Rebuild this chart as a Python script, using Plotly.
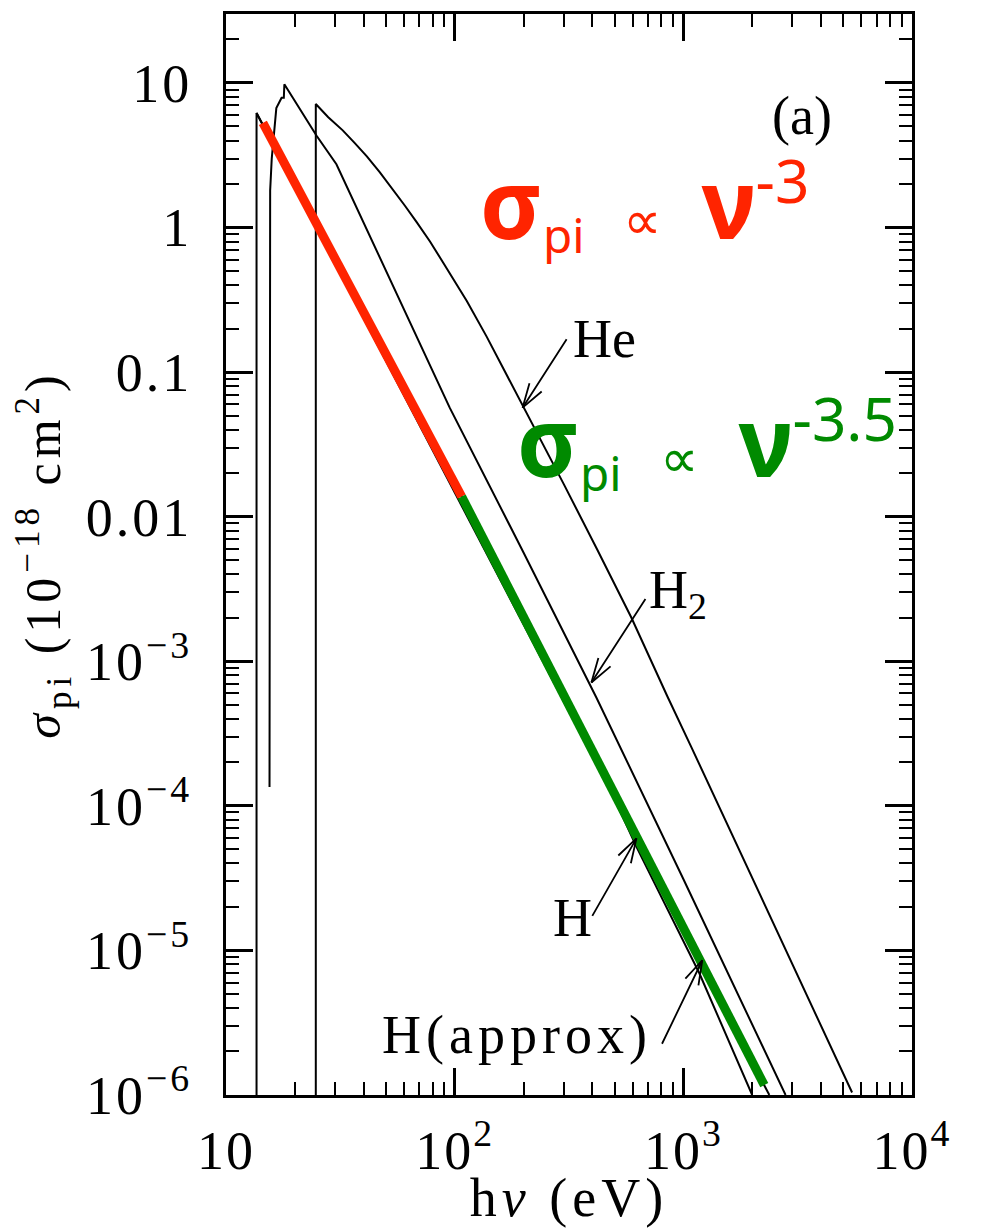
import math
import plotly.graph_objects as go

# ---- data (energy in eV, cross section in 1e-18 cm^2) ----
H_E = [13.6, 13.6, 107.3, 400, 624, 1175, 2000]
H_S = [1e-7, 6.2, 0.0138, 2.4e-4, 5.2e-5, 6.95e-6, 1.0e-6]

Happrox_E = [13.6, 2377]
Happrox_S = [6.2, 1.0e-6]

H2_E = [15.5, 15.5, 15.6, 15.85, 16.1, 16.6, 17.5, 17.9, 18.0, 24.9, 30.4, 68.2, 95.1, 200, 417, 1000, 2800]
H2_S = [1.35e-4, 0.5, 1.8, 3.0, 3.8, 6.7, 7.9, 7.9, 9.8, 4.31, 2.74, 0.173, 0.0568, 5.66e-3, 5.6e-4, 3.12e-5, 1.0e-6]

He_E = [24.7, 24.7, 28.0, 32.4, 36.5, 41.3, 47.0, 53.6, 60.5, 68.2, 78.0, 88.7, 100, 113, 138, 198,
        300, 420, 593, 851, 1084, 5470]
He_S = [1e-7, 7.16, 5.80, 4.70, 3.85, 3.11, 2.42, 1.85, 1.42, 1.09, 0.80, 0.578, 0.425, 0.310, 0.176,
        0.0596, 0.0168, 5.93e-3, 2.0e-3, 5.73e-4, 2.55e-4, 1.04e-6]

red_E = [14.5, 107.3]
red_S = [5.30, 0.01377]

green_E = [107.3, 2259]
green_S = [0.01377, 1.17e-6]

x_tickvals = [10, 100, 1000, 10000]
x_ticktext = ["10", "10<sup>2</sup>", "10<sup>3</sup>", "10<sup>4</sup>"]
y_tickvals = [1e-6, 1e-5, 1e-4, 1e-3, 0.01, 0.1, 1, 10]
y_ticktext = ["10<sup>−6</sup>", "10<sup>−5</sup>", "10<sup>−4</sup>", "10<sup>−3</sup>",
              "0.01", "0.1", "1", "10"]

RED = "rgb(255,36,0)"
GREEN = "rgb(0,138,0)"
SERIF = "Liberation Serif"
SANS = "Noto Sans"


def spaced(t, px):
    return "<span style='letter-spacing:%dpx'>%s</span>" % (px, t)


fig = go.Figure()
for E, S in [(H_E, H_S), (Happrox_E, Happrox_S), (H2_E, H2_S), (He_E, He_S)]:
    fig.add_trace(go.Scatter(x=E, y=S, mode="lines", line=dict(color="black", width=2),
                             showlegend=False, hoverinfo="skip"))
fig.add_trace(go.Scatter(x=red_E, y=red_S, mode="lines", line=dict(color=RED, width=9),
                         showlegend=False, hoverinfo="skip"))
fig.add_trace(go.Scatter(x=green_E, y=green_S, mode="lines", line=dict(color=GREEN, width=9),
                         showlegend=False, hoverinfo="skip"))

minor_x = [d * 10 ** p for p in range(1, 4) for d in range(2, 10)]
minor_y = [d * 10 ** p for p in range(-6, 2) for d in range(2, 10)]

axis_common = dict(
    type="log", showgrid=False, zeroline=False,
    showline=True, linecolor="black", linewidth=3, mirror="allticks",
    ticks="inside", ticklen=27, tickwidth=2.5, tickcolor="black",
    tickfont=dict(family=SERIF, size=54, color="black"),
)

fig.update_xaxes(
    **axis_common, range=[1, 4], tickmode="array", tickvals=x_tickvals,
    ticktext=[spaced(t, 2) for t in x_ticktext],
    minor=dict(ticks="inside", ticklen=13, tickwidth=2, tickcolor="black",
               tickmode="array", tickvals=minor_x, showgrid=False),
    ticklabelstandoff=6,
    title=dict(text=spaced("h<i>ν</i> (eV)", 5),
               font=dict(family=SERIF, size=54, color="black"), standoff=12),
)
fig.update_yaxes(
    **axis_common, range=[-6, 1.477], tickmode="array", tickvals=y_tickvals,
    ticktext=[spaced(t, 3) for t in y_ticktext],
    minor=dict(ticks="inside", ticklen=13, tickwidth=2, tickcolor="black",
               tickmode="array", tickvals=minor_y, showgrid=False),
    ticklabelstandoff=20,
    title=dict(text=spaced("<i>σ</i><sub>pi</sub> (10<sup>−18</sup> cm<sup>2</sup>)", 5),
               font=dict(family=SERIF, size=50, color="black"), standoff=12),
)

ann = []
lbl_font = dict(family=SERIF, size=54, color="black")
ann.append(dict(x=3.520, y=0.772, text="(a)", showarrow=False, font=lbl_font))
ann.append(dict(x=2.655, y=-0.769, text="He", showarrow=False, font=lbl_font))
ann.append(dict(x=2.843, y=-2.53, text="H<sub>2</sub>", showarrow=False, font=lbl_font, xanchor="left"))
ann.append(dict(x=2.515, y=-4.778, text="H", showarrow=False, font=lbl_font))
ann.append(dict(x=2.271, y=-5.586, text=spaced("H(approx)", 5), showarrow=False, font=lbl_font))

# arrows: tip in log10 data units, tail offset in pixels; open V heads from two short strokes
arrows = [(2.297, -1.246, 45, -70), (2.598, -3.147, 55, -85),
          (2.795, -4.225, -45, 79), (3.083, -5.068, -41, 85)]
for (tx, ty, ax, ay) in arrows:
    ann.append(dict(x=tx, y=ty, ax=ax, ay=ay, text="", showarrow=True, arrowhead=0,
                    arrowwidth=1.8, arrowcolor="black", standoff=0, startstandoff=0))
    L = math.hypot(ax, ay)
    ux, uy = ax / L, ay / L
    for ang in (math.radians(17), math.radians(-17)):
        bx = ux * math.cos(ang) - uy * math.sin(ang)
        by = ux * math.sin(ang) + uy * math.cos(ang)
        ann.append(dict(x=tx, y=ty, ax=bx * 27, ay=by * 27, text="", showarrow=True, arrowhead=0,
                        arrowwidth=1.8, arrowcolor="black", standoff=0, startstandoff=0))

sp = "<span style='font-size:150px'> </span>"
red_txt = ("<b>σ</b><span style='font-size:68px'><sub>pi</sub></span>" + sp +
           "<span style='font-size:54px'>∝</span>" + sp +
           "<b>ν</b><span style='font-size:86px'><sup>-3</sup></span>")
green_txt = ("<b>σ</b><span style='font-size:68px'><sub>pi</sub></span>" + sp +
             "<span style='font-size:54px'>∝</span>" + sp +
             "<b>ν</b><span style='font-size:86px'><sup>-3.5</sup></span>")
ann.append(dict(x=2.100, y=0.323, text=red_txt, showarrow=False, xanchor="left",
                font=dict(family=SANS, size=96, color=RED)))
ann.append(dict(x=2.262, y=-1.322, text=green_txt, showarrow=False, xanchor="left",
                font=dict(family=SANS, size=96, color=GREEN)))

# the page body adds an 8px offset, so the figure is 8px smaller than the window
fig.update_layout(
    width=977, height=1220,
    margin=dict(l=218, r=73, t=6, b=133, autoexpand=False),
    paper_bgcolor="white", plot_bgcolor="white",
    annotations=ann,
)
fig.write_html("out.html")
